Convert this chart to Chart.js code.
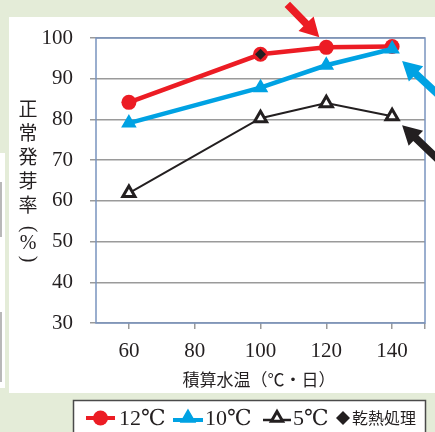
<!DOCTYPE html>
<html>
<head>
<meta charset="utf-8">
<script src="https://cdn.jsdelivr.net/npm/chart.js@4"></script>
<style>
  html, body { margin: 0; padding: 0; background: #e4ecd8; }
  #wrap { width: 435px; height: 432px; }
</style>
</head>
<body>
<div id="wrap"><canvas id="germChart" width="435" height="432"></canvas></div>
<script>
// 積算水温 (℃・日)
const xValues = [60, 100, 120, 140];
const xTicks = [60, 80, 100, 120, 140];
const xTickMarks = [60, 80, 100, 120, 140, 150];
const yTicks = [30, 40, 50, 60, 70, 80, 90, 100];

// 正常発芽率 (%)
const rate12 = [84.2, 96.0, 97.7, 97.9];
const rate10 = [79.1, 87.8, 93.3, 97.3];
const rate5 = [61.9, 80.3, 84.0, 80.8];
const dryHeatX = [100];
const dryHeatY = [96.0];

const seriesLabels = ['12℃', '10℃', '5℃', '乾熱処理'];
const xTitle = '積算水温（℃・日）';
const yTitle = ['正', '常', '発', '芽', '率', '(', '%', ')'];

const RED = '#ec1c24';
const BLUE = '#00a2e3';
const BLACK = '#231f20';
const SERIF = '"Liberation Serif", "DejaVu Serif", serif';
const CJK = '"Noto Sans CJK JP", "Noto Sans", sans-serif';

const pts = (xs, ys) => xs.map((x, i) => ({ x: x, y: ys[i] }));

// arrow: tip is where the head points, dir points from tip back to the tail
function drawArrow(ctx, tx, ty, dx, dy, len, color) {
    const n = Math.hypot(dx, dy);
    const ux = dx / n, uy = dy / n;
    const px = -uy, py = ux;
    const headLen = 19, headW = 10.5, shaftW = 3.8;
    const bx = tx + ux * headLen, by = ty + uy * headLen;
    ctx.save();
    ctx.fillStyle = color;
    ctx.beginPath();
    ctx.moveTo(tx, ty);
    ctx.lineTo(bx + px * headW, by + py * headW);
    ctx.lineTo(bx + px * shaftW, by + py * shaftW);
    ctx.lineTo(tx + ux * len + px * shaftW, ty + uy * len + py * shaftW);
    ctx.lineTo(tx + ux * len - px * shaftW, ty + uy * len - py * shaftW);
    ctx.lineTo(bx - px * shaftW, by - py * shaftW);
    ctx.lineTo(bx - px * headW, by - py * headW);
    ctx.closePath();
    ctx.fill();
    ctx.restore();
}

function drawTri(ctx, x, y, r, fill, stroke, lw) {
    ctx.beginPath();
    ctx.moveTo(x, y - r);
    ctx.lineTo(x + r * 0.866, y + r * 0.5);
    ctx.lineTo(x - r * 0.866, y + r * 0.5);
    ctx.closePath();
    ctx.fillStyle = fill;
    ctx.fill();
    ctx.lineWidth = lw;
    ctx.strokeStyle = stroke;
    ctx.stroke();
}

const decor = {
    id: 'decor',
    beforeDraw(chart) {
        const ctx = chart.ctx;
        ctx.save();
        ctx.fillStyle = '#e4ecd8';
        ctx.fillRect(0, 0, 435, 432);
        // white page panel
        ctx.fillStyle = '#ffffff';
        ctx.fillRect(9, 17, 426, 376);
        // bit of the neighbouring panel on the left
        ctx.fillRect(0, 153, 5, 235);
        ctx.strokeStyle = '#8a8a8a';
        ctx.lineWidth = 1.2;
        ctx.beginPath();
        ctx.moveTo(1, 182); ctx.lineTo(1, 237);
        ctx.moveTo(1, 312); ctx.lineTo(1, 382);
        ctx.stroke();
        // legend box
        ctx.fillStyle = '#ffffff';
        ctx.fillRect(73, 400, 353, 40);
        ctx.strokeStyle = '#4a4a4a';
        ctx.lineWidth = 1.5;
        ctx.strokeRect(73.5, 400.5, 352, 40);
        ctx.restore();
    },
    beforeDatasetsDraw(chart) {
        const { ctx, chartArea: a } = chart;
        ctx.save();
        ctx.strokeStyle = '#7a94bf';
        ctx.lineWidth = 1.5;
        ctx.strokeRect(a.left, a.top, a.right - a.left, a.bottom - a.top);
        ctx.restore();
    },
    afterDraw(chart) {
        const ctx = chart.ctx;
        const xs = chart.scales.x, ys = chart.scales.y;
        ctx.save();

        // arrows pointing at points of interest
        const p12 = { x: xs.getPixelForValue(xValues[2]), y: ys.getPixelForValue(rate12[2]) };
        drawArrow(ctx, p12.x - 7, p12.y - 10, -30, -31, 46, RED);
        const p10 = { x: xs.getPixelForValue(xValues[3]), y: ys.getPixelForValue(rate10[3]) };
        drawArrow(ctx, p10.x + 10, p10.y + 12, 1, 0.93, 50, BLUE);
        const p5 = { x: xs.getPixelForValue(xValues[3]), y: ys.getPixelForValue(rate5[3]) };
        drawArrow(ctx, p5.x + 10, p5.y + 9, 1, 0.95, 50, BLACK);

        // y title, stacked vertically
        ctx.fillStyle = BLACK;
        ctx.textAlign = 'center';
        ctx.textBaseline = 'middle';
        const yPos = [109, 133, 157, 181, 205, 229, 244, 259];
        yTitle.forEach((ch, i) => {
            if (ch === '(' || ch === ')') {
                ctx.save();
                ctx.translate(28, yPos[i]);
                ctx.rotate(Math.PI / 2);
                ctx.font = '20px ' + SERIF;
                ctx.fillText(ch, 0, 0);
                ctx.restore();
            } else if (ch === '%') {
                ctx.font = '20px ' + SERIF;
                ctx.fillText(ch, 28, yPos[i]);
            } else {
                ctx.font = '19px ' + CJK;
                ctx.fillText(ch, 28, yPos[i]);
            }
        });

        // x title
        ctx.font = '17px ' + CJK;
        ctx.fillText(xTitle, 259, 380);

        // legend
        const ly = 418;
        ctx.lineCap = 'butt';
        // 12℃
        ctx.strokeStyle = RED; ctx.lineWidth = 4;
        ctx.beginPath(); ctx.moveTo(86, ly); ctx.lineTo(115, ly); ctx.stroke();
        ctx.fillStyle = RED;
        ctx.beginPath(); ctx.arc(100.5, ly, 7.5, 0, Math.PI * 2); ctx.fill();
        // 10℃
        ctx.strokeStyle = BLUE;
        ctx.beginPath(); ctx.moveTo(173, ly + 2); ctx.lineTo(203, ly + 2); ctx.stroke();
        drawTri(ctx, 188, ly, 8, BLUE, BLUE, 1.5);
        // 5℃
        ctx.strokeStyle = BLACK; ctx.lineWidth = 2.5;
        ctx.beginPath(); ctx.moveTo(263, ly + 2); ctx.lineTo(291, ly + 2); ctx.stroke();
        drawTri(ctx, 277, ly, 6.5, '#ffffff', BLACK, 3);
        // 乾熱処理
        ctx.fillStyle = BLACK;
        ctx.beginPath();
        ctx.moveTo(343, ly - 7); ctx.lineTo(350, ly); ctx.lineTo(343, ly + 7); ctx.lineTo(336, ly);
        ctx.closePath(); ctx.fill();

        ctx.textAlign = 'left';
        ctx.fillStyle = BLACK;
        ctx.font = '22px ' + SERIF;
        ctx.fillText(seriesLabels[0], 119, ly + 1);
        ctx.fillText(seriesLabels[1], 205, ly + 1);
        ctx.fillText(seriesLabels[2], 293, ly + 1);
        ctx.font = '16px ' + CJK;
        ctx.fillText(seriesLabels[3], 352, ly);
        ctx.restore();
    }
};

document.addEventListener('DOMContentLoaded', () => {
    const ctx = document.getElementById('germChart').getContext('2d');

    new Chart(ctx, {
        type: 'line',
        data: {
            datasets: [{
                label: seriesLabels[3],
                data: pts(dryHeatX, dryHeatY),
                showLine: false,
                pointStyle: 'rectRot',
                pointRadius: 5.5,
                backgroundColor: BLACK,
                borderColor: BLACK,
                borderWidth: 0,
                order: 0
            }, {
                label: seriesLabels[1],
                data: pts(xValues, rate10),
                borderColor: BLUE,
                backgroundColor: BLUE,
                borderWidth: 4.5,
                pointStyle: 'triangle',
                pointRadius: 7.5,
                pointBorderWidth: 1.5,
                tension: 0,
                order: 1
            }, {
                label: seriesLabels[0],
                data: pts(xValues, rate12),
                borderColor: RED,
                backgroundColor: RED,
                borderWidth: 4.5,
                pointStyle: 'circle',
                pointRadius: 7.5,
                pointBorderWidth: 0,
                tension: 0,
                order: 2
            }, {
                label: seriesLabels[2],
                data: pts(xValues, rate5),
                borderColor: BLACK,
                backgroundColor: '#ffffff',
                borderWidth: 2,
                pointStyle: 'triangle',
                pointRadius: 7,
                pointBorderWidth: 3,
                tension: 0,
                order: 3
            }]
        },
        options: {
            responsive: false,
            animation: false,
            events: [],
            layout: { padding: { left: 0, top: 38, right: 5, bottom: 0 } },
            plugins: {
                legend: { display: false },
                tooltip: { enabled: false }
            },
            scales: {
                x: {
                    type: 'linear',
                    min: 50,
                    max: 150,
                    afterBuildTicks: (s) => { s.ticks = xTickMarks.map(v => ({ value: v })); },
                    afterFit: (s) => { s.height = 109; s.paddingLeft = 0; s.paddingRight = 0; },
                    border: { display: false },
                    grid: {
                        drawOnChartArea: false,
                        drawTicks: true,
                        tickLength: 6,
                        color: '#9a9a9a',
                        lineWidth: 1.5
                    },
                    ticks: {
                        color: BLACK,
                        font: { family: SERIF, size: 21 },
                        padding: 10,
                        maxRotation: 0,
                        callback: (v) => xTicks.includes(v) ? String(v) : ''
                    }
                },
                y: {
                    min: 30,
                    max: 100,
                    afterBuildTicks: (s) => { s.ticks = yTicks.map(v => ({ value: v })); },
                    afterFit: (s) => { s.width = 96; },
                    border: { display: false },
                    grid: {
                        color: '#9a9a9a',
                        lineWidth: 1.5,
                        tickLength: 6
                    },
                    ticks: {
                        color: BLACK,
                        font: { family: SERIF, size: 21 },
                        padding: 17
                    }
                }
            }
        },
        plugins: [decor]
    });
});
</script>
</body>
</html>
